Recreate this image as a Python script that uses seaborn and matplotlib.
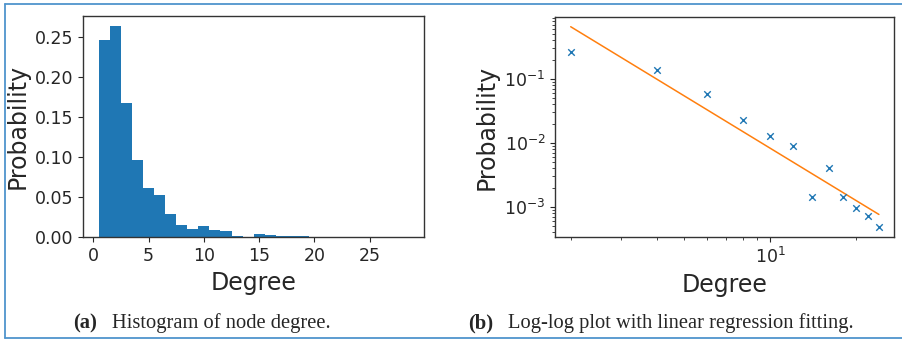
import numpy as np
import pandas as pd
import matplotlib
matplotlib.use("Agg")
import matplotlib.pyplot as plt
from matplotlib.lines import Line2D
import seaborn as sns

# histogram of node degree (probability per integer degree)
degrees = list(range(1, 29))
deg_prob = [0.2454, 0.2629, 0.1679, 0.0966, 0.0616, 0.0529, 0.0291, 0.0154,
            0.0104, 0.0141, 0.0091, 0.0079, 0.0017, 0.0003, 0.0042, 0.0029,
            0.0013, 0.0013, 0.0013, 0.0004, 0.0003, 0.0003, 0.0002, 0.0002,
            0.0002, 0.0002, 0.0002, 0.0002]

# log-binned points for the log-log plot
log_x = [2, 4, 6, 8, 10, 12, 14, 16, 18, 20, 22, 24]
log_p = [0.261, 0.135, 0.059, 0.0226, 0.0127, 0.0090, 0.00145, 0.0041,
         0.00145, 0.00096, 0.000715, 0.00048]

BLUE = "#1f77b4"
ORANGE = "#ff7f0e"

sns.set_style("ticks")
plt.rcParams["font.family"] = ["DejaVu Sans"]

W, H = 902, 339
fig = plt.figure(figsize=(W / 100, H / 100), dpi=100)

ax1 = fig.add_axes([83.3 / W, 1 - 237.3 / H, (424 - 83.3) / W, (237.3 - 15.7) / H])
ax2 = fig.add_axes([555.3 / W, 1 - 237.3 / H, (894.3 - 555.3) / W, (237.3 - 16.7) / H])

# (a) histogram
hist_df = pd.DataFrame({"degree": degrees, "prob": deg_prob})
sns.histplot(data=hist_df, x="degree", weights="prob", discrete=True,
             color=BLUE, alpha=1, linewidth=0, ax=ax1)
ax1.set_xticks([0, 5, 10, 15, 20, 25])
ax1.set_xlabel("Degree", fontsize=17)
ax1.set_ylabel("Probability", fontsize=17)
ax1.tick_params(labelsize=12.5)
ax1.yaxis.set_major_formatter(matplotlib.ticker.FormatStrFormatter("%.2f"))

# (b) log-log with linear regression fit
pts = pd.DataFrame({"degree": log_x, "prob": log_p})
slope, icpt = np.polyfit(np.log10(log_x), np.log10(log_p), 1)
fit = pd.DataFrame({"degree": [log_x[0], log_x[-1]]})
fit["prob"] = 10 ** (icpt + slope * np.log10(fit["degree"]))
sns.scatterplot(data=pts, x="degree", y="prob", marker="x", color=BLUE,
                s=22, linewidth=1.0, ax=ax2, zorder=3)
sns.lineplot(data=fit, x="degree", y="prob", color=ORANGE, linewidth=1.1, ax=ax2)
ax2.set_xscale("log")
ax2.set_yscale("log")
ax2.set_xlabel("Degree", fontsize=17)
ax2.set_ylabel("Probability", fontsize=17)
ax2.tick_params(labelsize=12.5)

for ax in (ax1, ax2):
    for s in ax.spines.values():
        s.set_color("#333333")
        s.set_linewidth(1.0)

# captions
cap = dict(family=["Liberation Serif", "DejaVu Serif"], fontsize=14.8, va="center")
y_cap = 1 - 323 / H
fig.text(73 / W, y_cap, "(a)", fontweight="bold", ha="left", **cap)
fig.text(112 / W, y_cap, "Histogram of node degree.", ha="left", **cap)
fig.text(468 / W, y_cap, "(b)", fontweight="bold", ha="left", **cap)
fig.text(508 / W, y_cap, "Log-log plot with linear regression fitting.", ha="left", **cap)

# frame lines
frame = "#4f94cd"
fig.add_artist(Line2D([5 / W, 5 / W], [1 - 4 / H, 1 - 337.5 / H], color=frame, lw=1.3))
fig.add_artist(Line2D([5 / W, 1], [1 - 4 / H, 1 - 4 / H], color=frame, lw=1.3))
fig.add_artist(Line2D([5 / W, 1], [1 - 337.5 / H, 1 - 337.5 / H], color=frame, lw=1.3))

fig.savefig("out.png", dpi=100)
